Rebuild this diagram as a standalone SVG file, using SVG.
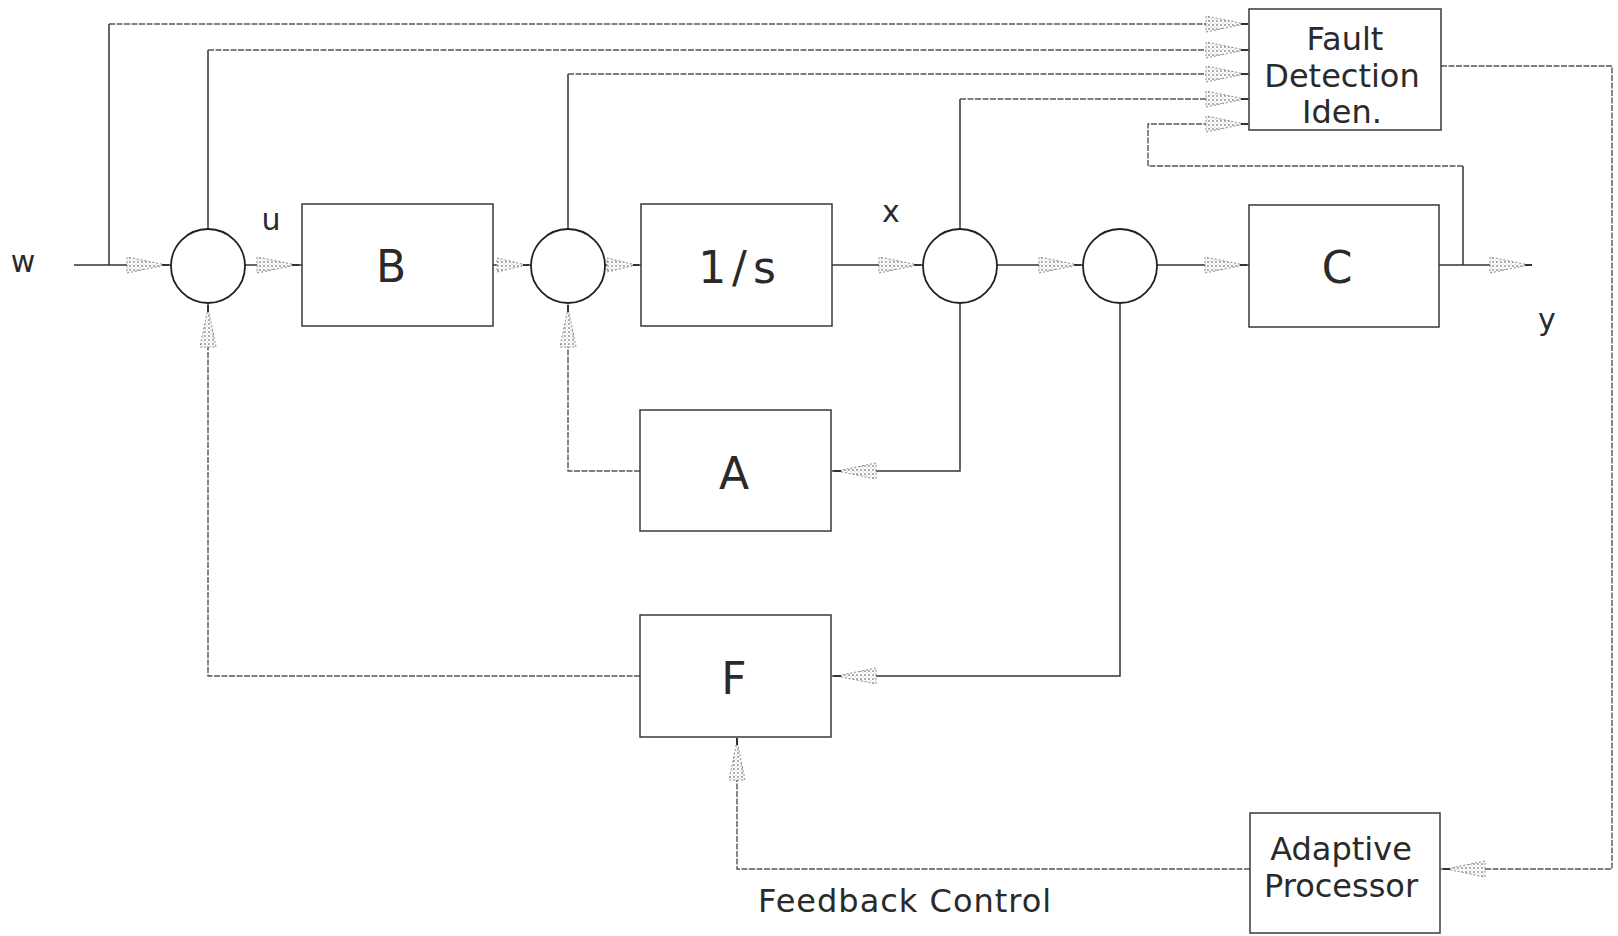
<svg xmlns="http://www.w3.org/2000/svg" width="1618" height="936" viewBox="0 0 1618 936">
<style>
.bg{fill:#fff}
.box{fill:none;stroke:#3a3a3a;stroke-width:1.5}
.sum{fill:none;stroke:#222;stroke-width:1.8}
.wire{fill:none;stroke:#333;stroke-width:1.5}
.fb{fill:none;stroke:#555;stroke-width:1.4;stroke-dasharray:6 1.5}
.lbl{font-family:"DejaVu Sans","Liberation Sans",sans-serif;fill:#2a2a2a;text-anchor:middle}
.big{font-size:44px}
.mid{font-size:32px}
.sm{font-size:30px}
</style>
<defs>
<pattern id="stip" width="4" height="4" patternUnits="userSpaceOnUse">
<rect width="4" height="4" fill="#fff"/>
<circle cx="1" cy="1" r="0.9" fill="#888"/>
<circle cx="3" cy="3" r="0.6" fill="#aaa"/>
</pattern>
<g id="ah">
<path d="M-3,0 L-42,-8 L-42,8 Z" fill="url(#stip)" stroke="#888" stroke-width="1" stroke-dasharray="2 2"/>
<path d="M-7,0 H0" stroke="#333" stroke-width="2"/>
</g>
<g id="ahs">
<path d="M-3,0 L-32,-7 L-32,7 Z" fill="url(#stip)" stroke="#888" stroke-width="1" stroke-dasharray="2 2"/>
<path d="M-6,0 H0" stroke="#333" stroke-width="2"/>
</g>
</defs>
<rect class="bg" x="0" y="0" width="1618" height="936"/>

<g id="connectors">
<path class="wire" d="M74,265 H171"/>
<path class="wire" d="M109,265 V24"/>
<path class="fb" d="M109,24 H1249"/>
<path class="wire" d="M208,229 V50"/>
<path class="fb" d="M208,50 H1249"/>
<path class="wire" d="M568,229 V74"/>
<path class="fb" d="M568,74 H1249"/>
<path class="wire" d="M960,229 V99"/>
<path class="fb" d="M960,99 H1249"/>
<path class="wire" d="M1463,265 V166"/>
<path class="fb" d="M1463,166 H1148 V124 H1249"/>
<path class="wire" d="M245,265 H302"/>
<path class="wire" d="M493,265 H531"/>
<path class="wire" d="M605,265 H641"/>
<path class="wire" d="M832,265 H923"/>
<path class="wire" d="M997,265 H1083"/>
<path class="wire" d="M1157,265 H1249"/>
<path class="wire" d="M1439,265 H1532"/>
<path class="wire" d="M960,303 V471 H832"/>
<path class="fb" d="M640,471 H568 V303"/>
<path class="wire" d="M1120,303 V676 H832"/>
<path class="fb" d="M640,676 H208 V303"/>
<path class="fb" d="M1441,66 H1612 V869 H1441"/>
<path class="fb" d="M1250,869 H737 V737"/>
<use href="#ah" transform="translate(169,265)"/>
<use href="#ah" transform="translate(299,265)"/>
<use href="#ahs" transform="translate(529,265)"/>
<use href="#ahs" transform="translate(639,265)"/>
<use href="#ah" transform="translate(921,265)"/>
<use href="#ah" transform="translate(1081,265)"/>
<use href="#ah" transform="translate(1247,265)"/>
<use href="#ah" transform="translate(1532,265)"/>
<use href="#ah" transform="translate(834,471) rotate(180)"/>
<use href="#ah" transform="translate(834,676) rotate(180)"/>
<use href="#ah" transform="translate(568,305) rotate(-90)"/>
<use href="#ah" transform="translate(208,305) rotate(-90)"/>
<use href="#ah" transform="translate(737,738) rotate(-90)"/>
<use href="#ah" transform="translate(1443,869) rotate(180)"/>
<use href="#ah" transform="translate(1248,24)"/>
<use href="#ah" transform="translate(1248,50)"/>
<use href="#ah" transform="translate(1248,74)"/>
<use href="#ah" transform="translate(1248,99)"/>
<use href="#ah" transform="translate(1248,124)"/>
</g>

<g id="sum1"><circle class="sum" cx="208" cy="266" r="37"/></g>
<g id="sum2"><circle class="sum" cx="568" cy="266" r="37"/></g>
<g id="sum3"><circle class="sum" cx="960" cy="266" r="37"/></g>
<g id="sum4"><circle class="sum" cx="1120" cy="266" r="37"/></g>

<g id="B"><rect class="box" x="302" y="204" width="191" height="122"/><text class="lbl big" x="391" y="282">B</text></g>
<g id="integrator"><rect class="box" x="641" y="204" width="191" height="122"/><text class="lbl big" x="740" y="283" letter-spacing="6">1/s</text></g>
<g id="C"><rect class="box" x="1249" y="205" width="190" height="122"/><text class="lbl big" x="1337" y="283">C</text></g>
<g id="A"><rect class="box" x="640" y="410" width="191" height="121"/><text class="lbl big" x="734" y="489">A</text></g>
<g id="F"><rect class="box" x="640" y="615" width="191" height="122"/><text class="lbl big" x="734" y="694">F</text></g>
<g id="fault"><rect class="box" x="1249" y="9" width="192" height="121"/>
<text class="lbl mid" x="1345" y="50">Fault</text>
<text class="lbl mid" x="1342" y="87">Detection</text>
<text class="lbl mid" x="1342" y="123">Iden.</text></g>
<g id="adaptive"><rect class="box" x="1250" y="813" width="190" height="120"/>
<text class="lbl mid" x="1341" y="860">Adaptive</text>
<text class="lbl mid" x="1341" y="897">Processor</text></g>

<g id="labels">
<text class="lbl sm" x="23" y="272">w</text>
<text class="lbl sm" x="271" y="230">u</text>
<text class="lbl sm" x="891" y="222">x</text>
<text class="lbl sm" x="1547" y="330">y</text>
<text class="lbl mid" x="758" y="912" style="text-anchor:start" letter-spacing="1">Feedback Control</text>
</g>
</svg>
